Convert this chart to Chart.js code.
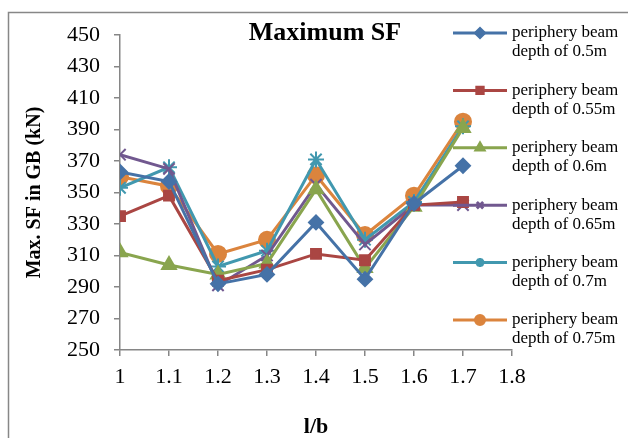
<!DOCTYPE html>
<html>
<head>
<meta charset="utf-8">
<script src="https://cdn.jsdelivr.net/npm/chart.js@4"></script>
<style>
  html, body { margin:0; padding:0; background:#fff; }
  #wrap { position:relative; width:628px; height:438px; }
</style>
</head>
<body>
<div id="wrap"><canvas id="c" width="628" height="438"></canvas></div>
<script>
// l/b ratios and max shear force (kN) per periphery beam depth
const ratios = [1, 1.1, 1.2, 1.3, 1.4, 1.5, 1.6, 1.7];
const xTickLabels = ['1', '1.1', '1.2', '1.3', '1.4', '1.5', '1.6', '1.7', '1.8'];
const yTickLabels = ['250', '270', '290', '310', '330', '350', '370', '390', '410', '430', '450'];

const depth050 = [363, 357, 292, 298, 331, 295, 343, 367];
const depth055 = [335, 348, 294, 301, 311, 307, 342, 344];
const depth060 = [312, 304, 298, 305, 352, 302, 341, 391];
const depth065 = [374, 365, 291, 310, 355, 317, 342, 342];
const depth070 = [353, 366, 303, 313, 371, 320, 344, 392];
const depth075 = [360, 354, 311, 320, 361, 323, 348, 395];

const seriesNames = [
  'periphery beam depth of 0.5m',
  'periphery beam depth of 0.55m',
  'periphery beam depth of 0.6m',
  'periphery beam depth of 0.65m',
  'periphery beam depth of 0.7m',
  'periphery beam depth of 0.75m'
];
const seriesData = [depth050, depth055, depth060, depth065, depth070, depth075];
const colors = ['#4572A7', '#AA4643', '#89A54E', '#71588F', '#4198AF', '#DB843D'];
const styles = ['rectRot', 'rect', 'triangle', 'crossRot', 'star', 'circle'];
const radii = [7, 7, 8, 8, 8, 8];

const serif = "'Liberation Serif', serif";

const datasets = seriesData.map((vals, i) => ({
  label: seriesNames[i],
  data: vals.map((v, k) => ({ x: ratios[k], y: v })),
  borderColor: colors[i],
  backgroundColor: colors[i],
  pointBackgroundColor: colors[i],
  pointBorderColor: colors[i],
  pointStyle: styles[i],
  pointRadius: radii[i],
  pointBorderWidth: 2,
  borderWidth: 3,
  tension: 0
}));

const decor = {
  id: 'decor',
  beforeDraw(chart) {
    const ctx = chart.ctx;
    ctx.save();
    ctx.strokeStyle = '#878787';
    ctx.lineWidth = 1.5;
    ctx.beginPath();
    ctx.moveTo(8.5, 438);
    ctx.lineTo(8.5, 12.5);
    ctx.lineTo(628, 12.5);
    ctx.stroke();
    ctx.restore();
  },
  afterDraw(chart) {
    const ctx = chart.ctx;
    ctx.save();
    // title
    ctx.fillStyle = '#000';
    ctx.font = "bold 26px " + serif;
    ctx.textAlign = 'center';
    ctx.textBaseline = 'middle';
    ctx.fillText('Maximum SF', 325, 33);
    // legend
    chart.data.datasets.forEach((ds, i) => {
      const y = 33 + i * 57.4;
      ctx.strokeStyle = ds.borderColor;
      ctx.lineWidth = 3;
      ctx.beginPath();
      ctx.moveTo(453, y);
      ctx.lineTo(507, y);
      ctx.stroke();
      ctx.fillStyle = ds.borderColor;
      Chart.helpers.drawPoint(ctx, {
        pointStyle: ds.pointStyle, radius: 4.5, rotation: 0, borderWidth: 2
      }, 480, y);
      ctx.fillStyle = '#000';
      ctx.font = "17px " + serif;
      ctx.textAlign = 'left';
      ctx.textBaseline = 'middle';
      const words = ds.label.split(' ');
      ctx.fillText(words.slice(0, 2).join(' '), 512, y);
      ctx.fillText(words.slice(2).join(' '), 512, y + 19);
    });
    ctx.restore();
  }
};

new Chart(document.getElementById('c'), {
  type: 'line',
  data: { datasets },
  plugins: [decor],
  options: {
    responsive: false,
    animation: false,
    layout: { padding: { top: 35, right: 116, left: 0, bottom: 0 } },
    plugins: { legend: { display: false }, title: { display: false }, tooltip: { enabled: false } },
    scales: {
      x: {
        type: 'linear',
        min: 1, max: 1.8,
        afterFit(scale) { scale.height = 88; },
        afterBuildTicks(scale) {
          scale.ticks = xTickLabels.map(t => ({ value: parseFloat(t) }));
        },
        ticks: {
          callback: (v, i) => xTickLabels[i],
          font: { family: serif, size: 22 },
          color: '#000',
          padding: 8,
          maxRotation: 0,
          autoSkip: false
        },
        grid: { drawOnChartArea: false, color: '#868686', tickLength: 6, lineWidth: 1.5 },
        border: { color: '#868686', width: 1.5 },
        title: {
          display: true, text: 'l/b', color: '#000',
          font: { family: serif, size: 22, weight: 'bold' },
          padding: { top: 0, bottom: -3 }
        }
      },
      y: {
        min: 250, max: 450,
        afterFit(scale) { scale.width = 120; },
        afterBuildTicks(scale) {
          scale.ticks = yTickLabels.map(t => ({ value: parseFloat(t) }));
        },
        ticks: {
          callback: (v, i) => yTickLabels[i],
          font: { family: serif, size: 22 },
          color: '#000',
          padding: 14
        },
        grid: { drawOnChartArea: false, color: '#868686', tickLength: 6, lineWidth: 1.5 },
        border: { color: '#868686', width: 1.5 },
        title: {
          display: true, text: 'Max. SF in GB (kN)', color: '#000',
          font: { family: serif, size: 20, weight: 'bold' },
          padding: { top: 23, bottom: 0 }
        }
      }
    }
  }
});
</script>
</body>
</html>
